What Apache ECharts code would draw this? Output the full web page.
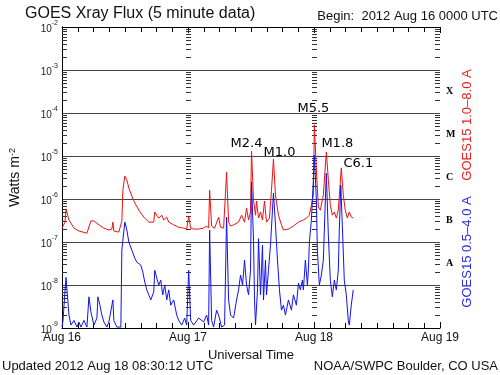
<!DOCTYPE html>
<html>
<head>
<meta charset="utf-8">
<script src="https://cdn.jsdelivr.net/npm/echarts@6/dist/echarts.min.js"></script>
<style>
  html, body { margin: 0; padding: 0; background: #fff; }
  #app { width: 500px; height: 375px; }
</style>
</head>
<body>
<div id="app"></div>
<script>
// hours since 2012 Aug 16 00:00 UTC
const days = ["Aug 16", "Aug 17", "Aug 18", "Aug 19"];
const classes = ["", "A", "B", "C", "M", "X", ""];

// GOES15 1.0-8.0 A  [hour, W m-2]
const longWave = [
  [0, 2.1e-7], [0.57, 2.9e-7], [0.76, 5.9e-7], [1.33, 3.25e-7], [2.28, 2.1e-7], [3.23, 1.8e-7],
  [4.75, 1.6e-7], [5.13, 1.7e-7], [5.51, 3.1e-7], [6.08, 3.1e-7], [7.03, 2.5e-7], [7.98, 2.1e-7],
  [8.93, 1.9e-7], [9.5, 2.0e-7], [9.69, 2.9e-7], [9.88, 1.8e-7], [10.83, 1.7e-7], [11.21, 1.6e-7],
  [11.4, 3.1e-7], [11.59, 1.6e-6], [11.97, 3.4e-6], [12.35, 2.8e-6], [12.73, 1.8e-6], [13.3, 1.17e-6],
  [13.87, 8.1e-7], [14.63, 5.5e-7], [15.58, 3.8e-7], [16.53, 2.9e-7], [17.48, 2.9e-7], [17.67, 5.0e-7],
  [18.05, 4.2e-7], [18.43, 3.6e-7], [19.0, 4.2e-7], [19.38, 3.25e-7], [19.95, 3.8e-7], [20.33, 2.9e-7],
  [21.28, 2.5e-7], [22.23, 2.2e-7], [23.18, 2.1e-7], [23.75, 2.0e-7], [24.13, 4.0e-7], [24.51, 2.1e-7],
  [25.08, 2.0e-7], [26.03, 2.0e-7], [26.98, 2.1e-7], [27.55, 2.35e-7], [27.93, 2.1e-7], [28.12, 1.6e-6],
  [28.5, 2.35e-7], [29.07, 2.1e-7], [29.83, 3.8e-7], [30.21, 2.2e-7], [30.78, 2.1e-7], [31.35, 4.2e-6],
  [31.73, 2.9e-7], [32.11, 2.35e-7], [32.68, 2.5e-7], [33.63, 2.9e-7], [34.2, 4.2e-7], [34.77, 2.9e-7],
  [35.15, 6.2e-7], [35.53, 3.25e-7], [35.91, 5.0e-7], [36.1, 1.3e-5], [36.48, 9.5e-7], [36.86, 4.2e-7],
  [37.05, 9.0e-7], [37.43, 3.6e-7], [37.81, 5.0e-7], [38.19, 3.25e-7], [38.57, 9.0e-7], [38.95, 2.9e-7],
  [39.52, 3.6e-7], [39.9, 1.6e-6], [40.28, 8.5e-6], [40.66, 1.24e-6], [41.23, 4.2e-7], [41.8, 2.5e-7],
  [42.18, 1.9e-7], [43.13, 2.0e-7], [44.08, 2.35e-7], [45.03, 2.9e-7], [45.98, 3.25e-7], [46.55, 3.6e-7],
  [47.12, 4.2e-7], [47.5, 7.2e-7], [47.88, 1.24e-6], [48.07, 5.3e-5], [48.45, 4.7e-6], [48.83, 6.5e-7],
  [49.21, 5.5e-7], [49.78, 1.24e-6], [50.35, 1.24e-5], [50.73, 2.8e-6], [51.11, 7.2e-7], [51.49, 4.2e-7],
  [51.87, 5.0e-7], [52.25, 3.6e-7], [52.63, 5.5e-7], [53.2, 5.3e-6], [53.58, 1.24e-6], [53.96, 5.5e-7],
  [54.34, 3.6e-7], [54.72, 5.0e-7], [55.1, 3.8e-7], [55.48, 3.6e-7]
];

// GOES15 0.5-4.0 A  [hour, W m-2]
const shortWave = [
  [0, 1.05e-9], [0.19, 1.5e-9], [0.76, 1.5e-8], [0.95, 7.7e-9], [1.33, 2.0e-9], [1.71, 1.17e-9],
  [2.28, 1.5e-9], [2.85, 1.05e-9], [3.23, 1.38e-9], [3.61, 1.05e-9], [4.18, 1.5e-9], [4.75, 1.05e-9],
  [5.13, 5.3e-9], [5.51, 2.35e-9], [6.08, 1.17e-9], [6.65, 1.7e-9], [6.84, 5.3e-9], [7.22, 3.4e-9],
  [7.6, 2.0e-9], [7.98, 1.38e-9], [8.55, 1.05e-9], [8.93, 1.38e-9], [9.69, 4.5e-9], [9.88, 1.5e-9],
  [10.45, 1.05e-9], [11.21, 1.05e-9], [11.4, 6.5e-8], [11.59, 1.1e-7], [11.97, 2.9e-7], [12.35, 1.9e-7],
  [12.73, 1.0e-7], [13.3, 6.5e-8], [13.87, 4.2e-8], [14.25, 3.4e-8], [14.63, 3.25e-8], [15.01, 2.9e-8],
  [15.39, 2.0e-8], [15.77, 1.17e-8], [16.15, 7.7e-9], [16.53, 5.9e-9], [16.91, 4.5e-9], [17.48, 6.9e-9],
  [17.67, 2.2e-8], [18.05, 1.45e-8], [18.43, 1.0e-8], [18.81, 1.3e-8], [19.19, 5.9e-9], [19.57, 1.0e-8],
  [19.95, 4.5e-9], [20.33, 7.7e-9], [20.71, 3.4e-9], [21.28, 4.5e-9], [21.85, 2.0e-9], [22.23, 1.5e-9],
  [22.8, 1.17e-9], [23.37, 1.7e-9], [23.75, 1.17e-9], [24.13, 2.2e-8], [24.51, 1.5e-9], [25.08, 1.17e-9],
  [26.03, 1.7e-9], [26.98, 1.38e-9], [27.55, 2.0e-9], [27.93, 1.17e-9], [28.12, 1.9e-7], [28.5, 1.5e-9],
  [28.88, 1.05e-9], [29.45, 2.6e-9], [29.83, 2.0e-9], [30.4, 1.05e-9], [30.97, 1.17e-9], [31.35, 3.8e-7],
  [31.73, 4.5e-9], [32.11, 2.0e-9], [32.68, 1.7e-9], [33.25, 4.5e-9], [33.63, 7.7e-9], [34.01, 1.7e-8],
  [34.39, 1.0e-8], [34.77, 3.8e-8], [35.15, 1.0e-8], [35.53, 5.9e-9], [35.91, 2.2e-8], [36.1, 2.5e-6],
  [36.48, 1.1e-7], [36.67, 4.5e-9], [36.86, 1.17e-9], [37.24, 7.7e-9], [37.43, 1.2e-7], [37.81, 5.9e-9],
  [38.19, 8.5e-8], [38.38, 4.5e-9], [38.76, 3.8e-8], [38.95, 5.9e-9], [39.33, 2.2e-8], [39.71, 8.5e-8],
  [40.09, 5.5e-7], [40.28, 1.38e-6], [40.66, 2.5e-7], [41.04, 3.8e-8], [41.42, 7.7e-9], [41.8, 2.6e-9],
  [42.18, 3.4e-9], [42.56, 2.0e-9], [43.13, 4.5e-9], [43.7, 2.6e-9], [44.08, 5.9e-9], [44.65, 3.4e-9],
  [45.03, 1.1e-8], [45.41, 7.7e-9], [45.79, 1.3e-8], [45.98, 7.7e-9], [46.36, 3.8e-8], [46.74, 1.0e-8],
  [46.93, 2.2e-8], [47.12, 1.0e-7], [47.5, 3.25e-7], [47.88, 2.8e-6], [48.07, 1.05e-5], [48.45, 9.5e-7],
  [48.64, 6.5e-8], [49.02, 1.0e-8], [49.4, 1.7e-8], [49.78, 3.8e-8], [50.16, 9.5e-7], [50.35, 4.0e-6],
  [50.73, 1.45e-7], [51.11, 1.3e-8], [51.49, 5.3e-9], [51.87, 1.3e-8], [52.25, 7.7e-9], [52.63, 2.2e-8],
  [52.82, 1.9e-7], [53.1, 2.1e-6], [53.39, 2.5e-7], [53.77, 1.3e-8], [54.15, 5.9e-9], [54.53, 1.5e-9],
  [54.72, 1.17e-9], [54.91, 2.0e-9], [55.1, 3.4e-9], [55.48, 7.7e-9]
];

const flareNames = ["M2.4", "M1.0", "M5.5", "M1.8", "C6.1"];
const flareTimes = [36.1, 40.28, 48.07, 50.35, 53.2];

const myChart = echarts.init(document.getElementById("app"));
const FONT = '"Liberation Sans", Arial, sans-serif';

// label offsets from the peak, px
const flareOffsets = [[-5, -7], [6, -6], [-1, -16], [11, -8], [17, -4]];
const flareMarks = flareNames.map(function (name, i) {
  const peak = longWave.find(function (d) { return d[0] === flareTimes[i]; });
  return {
    name: name,
    coord: peak,
    label: { offset: flareOffsets[i] },
  };
});

// log minor ticks (2..9 per decade) on both sides and on the day lines
const minorTicks = [];
[0, 24, 48, 72].forEach(function (t) {
  for (let n = -9; n < -2; n++) {
    for (let k = 2; k < 10; k++) minorTicks.push([t, k * Math.pow(10, n)]);
  }
});

const option = {
  animation: false,
  backgroundColor: "#fff",
  grid: { left: 62, top: 27, width: 378, height: 301 },
  xAxis: [
    {
      type: "value",
      min: 0,
      max: 72,
      interval: 24,
      name: "Universal Time",
      nameLocation: "middle",
      nameGap: 18,
      nameTextStyle: { fontFamily: FONT, fontSize: 13, color: "#111" },
      axisLine: { lineStyle: { color: "#000", width: 1 } },
      axisTick: { inside: true, length: 6, lineStyle: { color: "#000" } },
      minorTick: { show: true, splitNumber: 8, length: 5, lineStyle: { color: "#000" } },
      splitLine: { show: false },
      axisLabel: {
        margin: 4,
        fontFamily: FONT,
        fontSize: 12,
        color: "#111",
        showMinLabel: true,
        showMaxLabel: true,
        formatter: function (v) { return days[Math.round(v / 24)]; },
      },
    },
    {
      type: "value",
      position: "top",
      min: 0,
      max: 72,
      interval: 24,
      axisLine: { lineStyle: { color: "#000", width: 1 } },
      axisTick: { inside: true, length: 6, lineStyle: { color: "#000" } },
      minorTick: { show: true, splitNumber: 8, length: 5, lineStyle: { color: "#000" } },
      splitLine: { show: false },
      axisLabel: { show: false },
    },
  ],
  yAxis: [
    {
      type: "log",
      logBase: 10,
      min: 1e-9,
      max: 1e-2,
      name: "{a|Watts m}{s|-2}",
      nameLocation: "middle",
      nameGap: 40,
      nameTextStyle: {
        rich: {
          a: { fontFamily: FONT, fontSize: 14, color: "#111" },
          s: { fontFamily: FONT, fontSize: 9, color: "#111", verticalAlign: "top" },
        },
      },
      axisLine: { show: true, lineStyle: { color: "#000", width: 1 } },
      axisTick: { show: false },
      splitLine: { show: true, lineStyle: { color: "#444", width: 1 } },
      axisLabel: {
        margin: 4,
        showMinLabel: true,
        showMaxLabel: true,
        formatter: function (v) {
          return "{b|10}{e|" + Math.round(Math.log10(v)) + "}";
        },
        rich: {
          b: { fontFamily: FONT, fontSize: 10, color: "#222", verticalAlign: "bottom", lineHeight: 14 },
          e: { fontFamily: FONT, fontSize: 7, color: "#222", verticalAlign: "top", lineHeight: 8 },
        },
      },
    },
    {
      type: "category",
      position: "right",
      data: classes,
      boundaryGap: true,
      axisLine: { show: true, lineStyle: { color: "#000", width: 1 } },
      axisTick: { show: false },
      splitLine: { show: false },
      axisLabel: {
        margin: 6,
        fontFamily: '"Liberation Serif", serif',
        fontWeight: "bold",
        fontSize: 10,
        color: "#000",
      },
    },
  ],
  graphic: [
    {
      type: "text",
      left: 25,
      top: 6,
      style: { text: "GOES Xray Flux (5 minute data)", font: "16px " + FONT, fill: "#111" },
    },
    {
      type: "text",
      right: 2,
      top: 10,
      style: { text: "Begin:  2012 Aug 16 0000 UTC", font: "13px " + FONT, fill: "#111" },
    },
    {
      type: "text",
      left: 2,
      top: 360,
      style: { text: "Updated 2012 Aug 18 08:30:12 UTC", font: "13px " + FONT, fill: "#111" },
    },
    {
      type: "text",
      right: 2,
      top: 360,
      style: { text: "NOAA/SWPC Boulder, CO USA", font: "13px " + FONT, fill: "#111" },
    },
    {
      type: "text",
      x: 467,
      y: 125,
      rotation: Math.PI / 2,
      style: {
        text: "GOES15 1.0\u20138.0 A",
        font: "13px " + FONT,
        fill: "#e82020",
        align: "center",
        verticalAlign: "middle",
        textAlign: "center",
        textVerticalAlign: "middle",
      },
    },
    {
      type: "text",
      x: 467,
      y: 252,
      rotation: Math.PI / 2,
      style: {
        text: "GOES15 0.5\u20134.0 A",
        font: "13px " + FONT,
        fill: "#2a2ae0",
        align: "center",
        verticalAlign: "middle",
        textAlign: "center",
        textVerticalAlign: "middle",
      },
    },
  ],
  series: [
    {
      name: "ticks",
      type: "custom",
      silent: true,
      data: minorTicks,
      renderItem: function (params, api) {
        const t = api.value(0);
        const p = api.coord([t, api.value(1)]);
        let x1 = p[0] - 2;
        let x2 = p[0] + 3;
        if (t === 0) { x1 = p[0]; x2 = p[0] + 5; }
        if (t === 72) { x1 = p[0] - 5; x2 = p[0]; }
        const y = Math.round(p[1]) + 0.5;
        return {
          type: "line",
          shape: { x1: x1, y1: y, x2: x2, y2: y },
          style: { stroke: "#333", lineWidth: 1 },
        };
      },
    },
    {
      name: "GOES15 1.0-8.0 A",
      type: "line",
      data: longWave,
      showSymbol: false,
      symbol: "none",
      lineStyle: { color: "#ee1111", width: 1 },
      markPoint: {
        symbol: "circle",
        symbolSize: 1,
        itemStyle: { color: "rgba(0,0,0,0)" },
        label: {
          show: true,
          position: "inside",
          formatter: "{b}",
          fontFamily: '"DejaVu Sans", sans-serif',
          fontSize: 13,
          color: "#000",
        },
        data: flareMarks,
      },
    },
    {
      name: "GOES15 0.5-4.0 A",
      type: "line",
      data: shortWave,
      showSymbol: false,
      symbol: "none",
      lineStyle: { color: "#1111ee", width: 1 },
    },
  ],
};

myChart.setOption(option);
</script>
</body>
</html>
